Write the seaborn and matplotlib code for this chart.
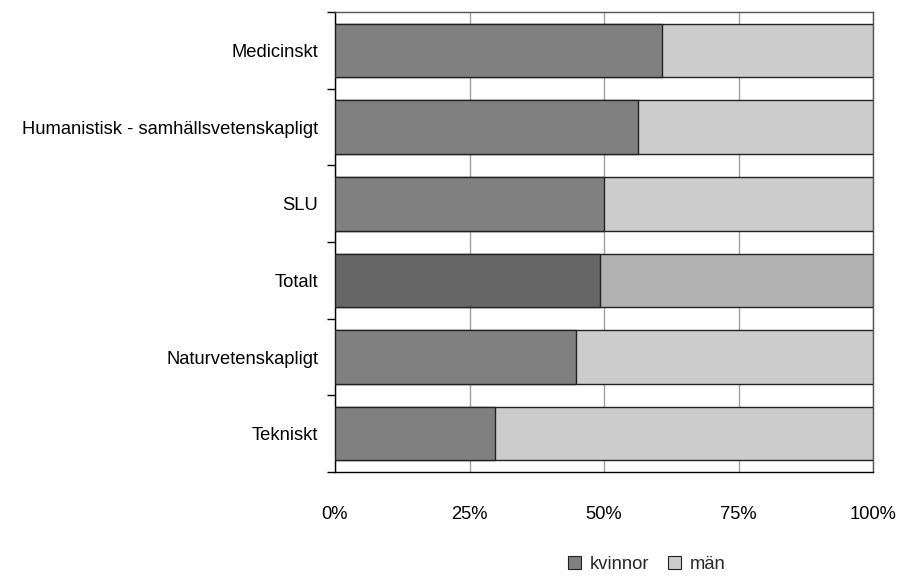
import numpy as np
import pandas as pd
import matplotlib
matplotlib.use("Agg")
import matplotlib.pyplot as plt
from matplotlib.patches import Patch
from matplotlib.ticker import FixedLocator, PercentFormatter
import seaborn as sns

categories = ["Medicinskt", "Humanistisk - samhällsvetenskapligt", "SLU",
              "Totalt", "Naturvetenskapligt", "Tekniskt"]
kvinnor = [60.8, 56.3, 50.0, 49.3, 44.8, 29.7]   # % women
man = [100 - k for k in kvinnor]                  # % men
series_labels = ["kvinnor", "män"]

sns.set_style("white")
plt.rcParams["font.family"] = ["Liberation Sans", "DejaVu Sans"]
fs = 13.2

df = pd.DataFrame({"kategori": categories, "kvinnor": kvinnor, "man": man})
df["total"] = df["kvinnor"] + df["man"]

dark = {c: "#808080" for c in categories}
dark["Totalt"] = "#666666"
light = {c: "#cccccc" for c in categories}
light["Totalt"] = "#b2b2b2"

fig = plt.figure(figsize=(9.01, 5.77), dpi=100)
ax = fig.add_axes([0.3718, 0.182, 0.969 - 0.3718, 0.979 - 0.182])

# men segment = full bar underneath, women drawn on top from 0
sns.barplot(data=df, y="kategori", x="total", hue="kategori", palette=light,
            order=categories, width=0.7, edgecolor="#222222", linewidth=1,
            legend=False, ax=ax, zorder=3)
sns.barplot(data=df, y="kategori", x="kvinnor", hue="kategori", palette=dark,
            order=categories, width=0.7, edgecolor="#222222", linewidth=1,
            legend=False, ax=ax, zorder=4)

ax.set_xlim(0, 100)
ax.set_ylim(len(categories) - 0.5, -0.5)
ax.set_xlabel("")
ax.set_ylabel("")

ax.set_xticks([0, 25, 50, 75, 100])
ax.xaxis.set_major_formatter(PercentFormatter(decimals=0))
ax.tick_params(axis="x", direction="out", length=6.5, width=1, color="black",
               pad=18, labelsize=fs, labelcolor="black")
ax.xaxis.grid(True, color="#a0a0a0", linewidth=1, zorder=0)
ax.set_axisbelow(True)

# category ticks sit between bars
ax.tick_params(axis="y", which="major", length=0, pad=12, labelsize=fs,
               labelcolor="black")
ax.yaxis.set_minor_locator(FixedLocator(np.arange(-0.5, len(categories), 1.0)))
ax.tick_params(axis="y", which="minor", direction="out", length=6, width=1,
               color="black", left=True)

for s in ["left", "bottom"]:
    ax.spines[s].set_color("black")
    ax.spines[s].set_linewidth(1)
for s in ["top", "right"]:
    ax.spines[s].set_color("#555555")
    ax.spines[s].set_linewidth(1)

handles = [Patch(facecolor="#808080", edgecolor="#222222", linewidth=0.8),
           Patch(facecolor="#cccccc", edgecolor="#222222", linewidth=0.8)]
fig.legend(handles, series_labels, loc="center", bbox_to_anchor=(0.718, 0.022),
           ncol=2, frameon=False, fontsize=fs, handlelength=0.7,
           handleheight=0.7, handletextpad=0.5, columnspacing=1.0)

fig.savefig("out.png", dpi=100)
